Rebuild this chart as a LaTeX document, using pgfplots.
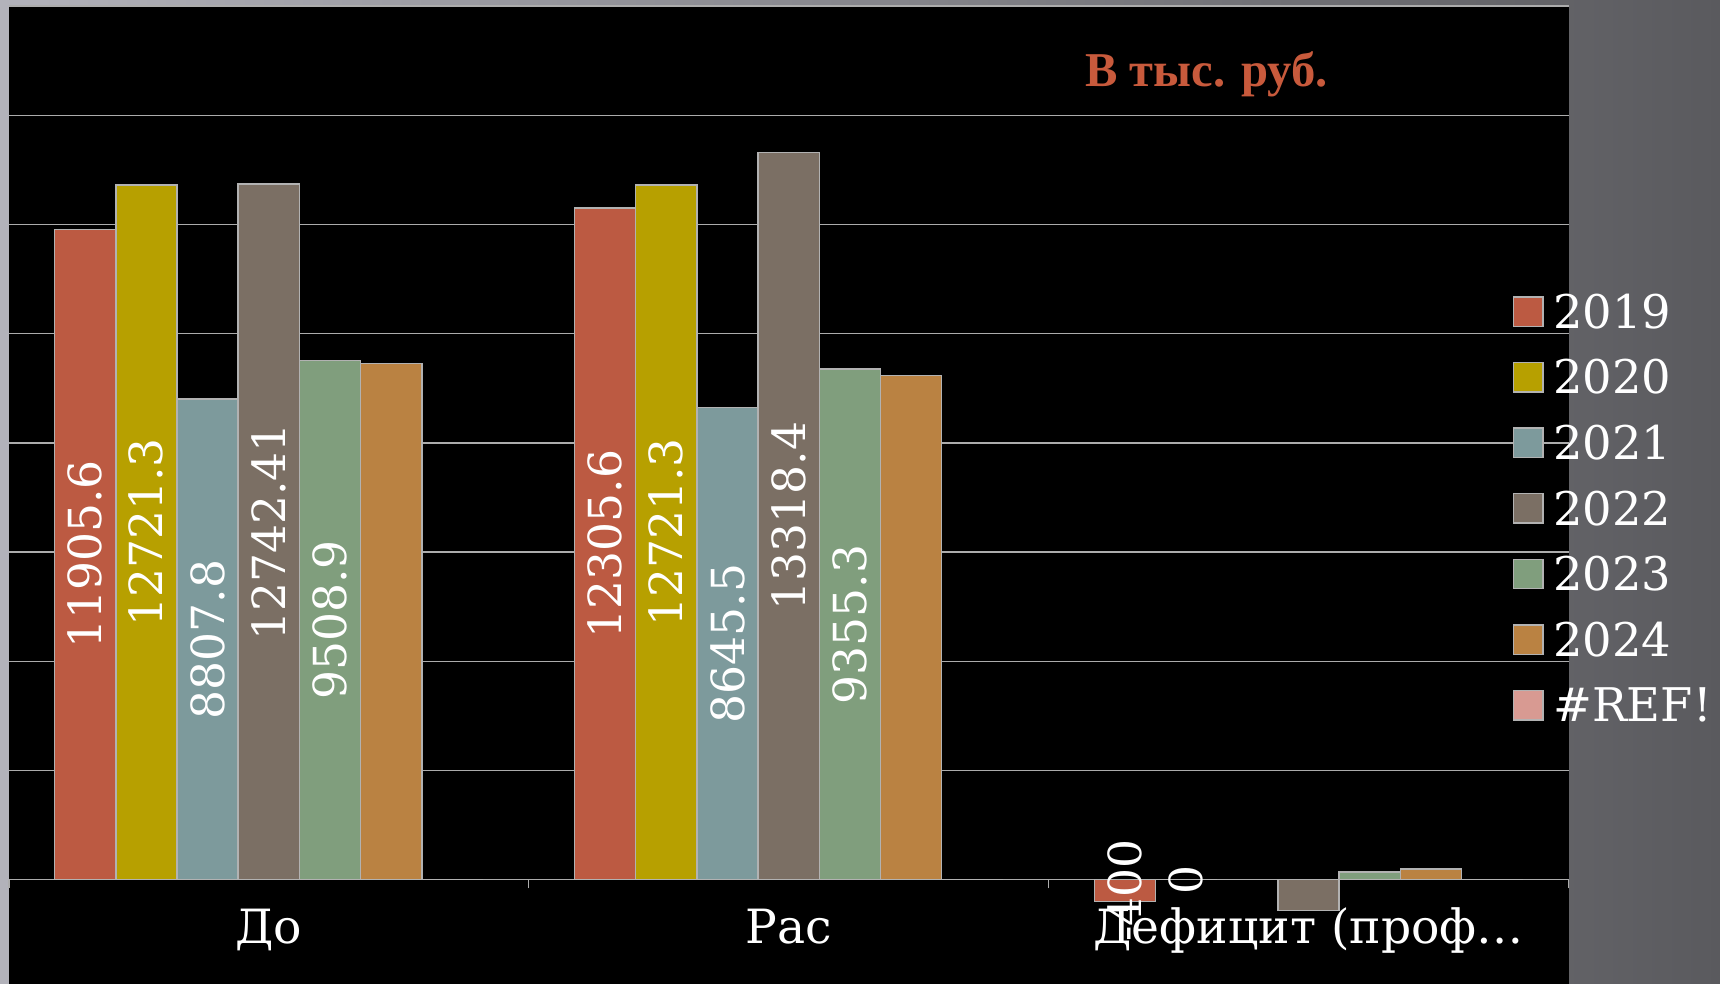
\documentclass[border=0pt]{standalone}
\usepackage{fontspec}
\setmainfont{DejaVu Serif}
\newfontfamily\titlefont{Liberation Serif}
\usepackage{pgfplots}
\pgfplotsset{compat=1.18}
\definecolor{c2019}{RGB}{188,90,66}
\definecolor{c2020}{RGB}{183,160,0}
\definecolor{c2021}{RGB}{125,154,156}
\definecolor{c2022}{RGB}{123,111,100}
\definecolor{c2023}{RGB}{128,158,125}
\definecolor{c2024}{RGB}{186,130,66}
\definecolor{cref}{RGB}{216,154,146}
\definecolor{gridc}{RGB}{172,172,172}
\definecolor{edgec}{RGB}{178,178,178}
\definecolor{titlec}{RGB}{200,90,60}
\definecolor{bgl}{RGB}{178,178,186}
\definecolor{bgm}{RGB}{112,112,118}
\definecolor{bgr}{RGB}{90,90,94}
\begin{document}
\begin{tikzpicture}
\useasboundingbox (0,0) rectangle (860pt,492pt);
\shade[left color=bgl, middle color=bgm, right color=bgr] (0,0) rectangle (860pt,492pt);
\fill[black] (4.4pt,0) rectangle (784.3pt,488.5pt);
\begin{axis}[
  at={(4.4pt,52.15pt)}, anchor=south west,
  scale only axis, width=779.9pt, height=436.8pt,
  xmin=-0.5, xmax=2.5, ymin=0, ymax=16000,
  clip=false,
  axis line style={draw=none},
  ybar=0pt, bar width=30.6pt,
  ytick={0,2000,...,16000}, yticklabels={}, ymajorgrids,
  ytick style={draw=none},
  yticklabel style={opacity=0},
  major grid style={gridc, line width=0.75pt},
  xtick={-0.5,0.5,1.5,2.5}, xticklabels={}, xtick pos=left,
  tick align=outside, major tick length=4.4pt,
  xtick style={gridc, line width=0.75pt},
  extra x ticks={0,1,2},
  extra x tick labels={До,Рас,Дефицит (проф…},
  extra x tick style={xtick style={draw=none}},
  xticklabel style={anchor=base, yshift=-27.5pt, text=white, font=\fontsize{23.6}{23.6}\selectfont},
  lab/.style={point meta=explicit symbolic, nodes near coords,
    visualization depends on={y \as \rawy},
    nodes near coords style={shift={(axis direction cs:0,{-0.5*(\rawy)})}, rotate=90, anchor=center, text=white, font=\fontsize{22.8}{22.8}\selectfont, inner sep=0pt}},
  legend image code/.code={\draw[#1] (0pt,-7.35pt) rectangle (14.7pt,7.35pt);},
  legend style={draw=none, fill=none, text=white, font=\fontsize{23.2}{23.2}\selectfont,
    at={(0.964,0.670)}, anchor=north west, inner sep=0pt, row sep=16pt, column sep=4.7pt,
    nodes={inner sep=0pt, text height=16.8pt, text depth=0pt}},
  legend cell align=left,
]
\addplot[fill=c2019, draw=edgec, line width=0.75pt, lab] coordinates {(0,11905.6) [11905.6] (1,12305.6) [12305.6] (2,-400) [-400]};
\addplot[fill=c2020, draw=edgec, line width=0.75pt, lab] coordinates {(0,12721.3) [12721.3] (1,12721.3) [12721.3] (2,0) [0]};
\addplot[fill=c2021, draw=edgec, line width=0.75pt, lab] coordinates {(0,8807.8) [8807.8] (1,8645.5) [8645.5]};
\addplot[fill=c2022, draw=edgec, line width=0.75pt, lab] coordinates {(0,12742.41) [12742.41] (1,13318.4) [13318.4] (2,-560) [\relax]};
\addplot[fill=c2023, draw=edgec, line width=0.75pt, lab] coordinates {(0,9508.9) [9508.9] (1,9355.3) [9355.3] (2,140) [\relax]};
\addplot[fill=c2024, draw=edgec, line width=0.75pt] coordinates {(0,9450) (1,9235) (2,200)};
\addplot[fill=cref, draw=edgec, line width=0.75pt] coordinates {(0,0) (1,0) (2,0)};
\legend{2019,2020,2021,2022,2023,2024,\#REF!}
\end{axis}
\node[font=\titlefont\bfseries\fontsize{24.3}{24.3}\selectfont, text=titlec, anchor=base] at (603.3pt,448.6pt) {В тыс. руб.};
\end{tikzpicture}
\end{document}
